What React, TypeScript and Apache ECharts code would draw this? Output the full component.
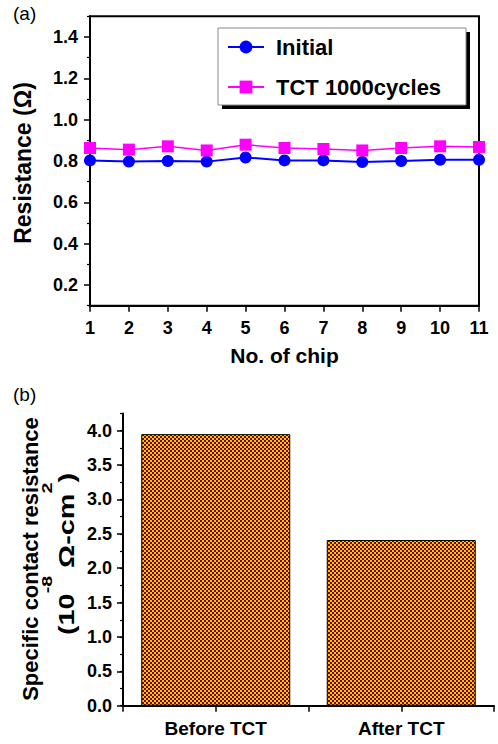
import React, { useEffect, useRef } from 'react';
import * as echarts from 'echarts';

// ---- Data ----
const chipNumbers = [1, 2, 3, 4, 5, 6, 7, 8, 9, 10, 11];
const initialValues = [0.803, 0.797, 0.8, 0.797, 0.817, 0.803, 0.803, 0.795, 0.8, 0.806, 0.806];
const tctValues = [0.863, 0.855, 0.871, 0.851, 0.879, 0.863, 0.858, 0.851, 0.863, 0.871, 0.868];
const seriesNames = ['Initial', 'TCT 1000cycles'];
const barCategories = ['Before TCT', 'After TCT'];
const barPositions = [1, 2];
const barValues = [3.95, 2.41];
// unit line of the (b) y title: [text, superscript?]
const unitTokens: [string, boolean][] = [['(10', false], ['-8', true], [' Ω-cm', false], ['2', true], [')', false]];

const FONT = '"Liberation Sans", Arial, sans-serif';

export default function App() {
  const ref = useRef<HTMLDivElement>(null);

  useEffect(() => {
    const el = ref.current!;
    const chart = echarts.init(el, null, { renderer: 'svg' });

    const tile = document.createElement('canvas');
    tile.width = 4;
    tile.height = 4;
    const ctx = tile.getContext('2d')!;
    ctx.fillStyle = '#f4c800';
    ctx.fillRect(0, 0, 4, 4);
    ctx.fillStyle = '#7c0400';
    ctx.fillRect(0, 0, 2, 2);
    ctx.fillRect(2, 2, 2, 2);

    // build the unit line with real superscripts
    const mctx = document.createElement('canvas').getContext('2d')!;
    const MAIN = 22;
    const SUP = 15;
    let cursor = 0;
    const unitChildren: any[] = [];
    unitTokens.forEach(([t, sup]) => {
      const fs = sup ? SUP : MAIN;
      mctx.font = `bold ${fs}px "Liberation Sans"`;
      const w = mctx.measureText(t).width;
      unitChildren.push({
        type: 'text', x: cursor, y: sup ? -19 : 0,
        style: { text: t, fill: '#000', fontFamily: FONT, fontWeight: 'bold', fontSize: fs, align: 'left', verticalAlign: 'middle' },
      });
      cursor += w;
    });
    const totalW = cursor;
    unitChildren.forEach((c) => { c.x -= totalW / 2; });
    const unitScale = 162 / totalW;

    const axisLine = { show: true, onZero: false, lineStyle: { color: '#000', width: 2 } };
    const majorTick = { show: true, length: 6, lineStyle: { color: '#000', width: 1.5 } };
    const minorTick = { show: true, length: 3, lineStyle: { color: '#000', width: 1.2 } };
    const tickLabel = { color: '#000', fontFamily: FONT, fontWeight: 'bold' as const, fontSize: 18 };

    const option: any = {
      animation: false,
      backgroundColor: '#fff',
      textStyle: { fontFamily: FONT },
      grid: [
        { left: 90, top: 16.3, width: 389, height: 289.4, show: true, borderColor: '#000', borderWidth: 2 },
        { left: 123, top: 413.5, width: 371, height: 292.2 },
      ],
      xAxis: [
        {
          gridIndex: 0, type: 'value', min: 1, max: 11, interval: 1,
          axisLine, axisTick: majorTick, splitLine: { show: false },
          axisLabel: { ...tickLabel, margin: 13 },
          name: 'No. of chip', nameLocation: 'middle', nameGap: 39,
          nameTextStyle: { color: '#000', fontFamily: FONT, fontWeight: 'bold', fontSize: 21 },
        },
        {
          gridIndex: 1, type: 'value', min: 0.5, max: 2.5, interval: 0.5,
          axisLine, axisTick: majorTick, splitLine: { show: false },
          axisLabel: {
            ...tickLabel, fontSize: 19, margin: 13,
            formatter: (v: number) => {
              const i = barPositions.indexOf(v);
              return i >= 0 ? barCategories[i] : '';
            },
          },
        },
      ],
      yAxis: [
        {
          gridIndex: 0, type: 'value', min: 0.1, max: 1.5, splitNumber: 7,
          axisLine, axisTick: majorTick, splitLine: { show: false },
          axisLabel: { ...tickLabel, margin: 12, showMinLabel: false, showMaxLabel: false, formatter: (v: number) => v.toFixed(1) },
        },
        {
          gridIndex: 0, type: 'value', position: 'left', offset: 0, min: 0.1, max: 1.5, interval: 0.2,
          axisLine: { show: false }, axisTick: minorTick, axisLabel: { show: false }, splitLine: { show: false },
        },
        {
          gridIndex: 1, type: 'value', min: 0, max: 4.25, interval: 0.5,
          axisLine, axisTick: majorTick, splitLine: { show: false },
          axisLabel: { ...tickLabel, margin: 11, showMaxLabel: false, formatter: (v: number) => v.toFixed(1) },
        },
        {
          gridIndex: 1, type: 'value', position: 'left', offset: 0, min: 0, max: 4.25, interval: 0.25,
          axisLine: { show: false }, axisTick: minorTick, axisLabel: { show: false }, splitLine: { show: false },
        },
      ],
      legend: {
        data: seriesNames,
        orient: 'vertical',
        left: 227,
        top: 36,
        itemWidth: 36,
        itemHeight: 16,
        itemGap: 18,
        padding: 0,
        z: 10,
        textStyle: { color: '#000', fontFamily: FONT, fontWeight: 'bold', fontSize: 22, lineHeight: 22, padding: [0, 0, 0, 7] },
      },
      graphic: [
        { type: 'text', left: 13, top: 4, style: { text: '(a)', fill: '#000', fontFamily: FONT, fontSize: 19 } },
        { type: 'text', left: 13, top: 385, style: { text: '(b)', fill: '#000', fontFamily: FONT, fontSize: 19 } },
        { type: 'rect', z: 3, shape: { x: 222, y: 32, width: 248, height: 77 }, style: { fill: '#000' } },
        { type: 'rect', z: 4, shape: { x: 218, y: 28, width: 248, height: 77 }, style: { fill: '#fff', stroke: '#888', lineWidth: 1 } },
        {
          type: 'text', x: 23, y: 163, rotation: Math.PI / 2,
          style: { text: 'Resistance (Ω)', fill: '#000', fontFamily: FONT, fontWeight: 'bold', fontSize: 23, align: 'center', verticalAlign: 'middle' },
        },
        {
          type: 'text', x: 30, y: 559, rotation: Math.PI / 2,
          style: { text: 'Specific contact resistance', fill: '#000', fontFamily: FONT, fontWeight: 'bold', fontSize: 22, align: 'center', verticalAlign: 'middle' },
        },
        {
          type: 'group', x: 66, y: 554, rotation: Math.PI / 2, scaleX: unitScale, scaleY: 1,
          children: unitChildren,
        },
      ],
      series: [
        {
          type: 'line', name: seriesNames[0], xAxisIndex: 0, yAxisIndex: 0,
          data: chipNumbers.map((x, i) => [x, initialValues[i]]),
          symbol: 'circle', symbolSize: 12,
          itemStyle: { color: '#0000ff' }, lineStyle: { color: '#0000ff', width: 2 }, z: 3,
        },
        {
          type: 'line', name: seriesNames[1], xAxisIndex: 0, yAxisIndex: 0,
          data: chipNumbers.map((x, i) => [x, tctValues[i]]),
          symbol: 'rect', symbolSize: 12,
          itemStyle: { color: '#ff00ff' }, lineStyle: { color: '#ff00ff', width: 1.5 }, z: 3,
        },
        {
          type: 'bar', xAxisIndex: 1, yAxisIndex: 2,
          data: barPositions.map((x, i) => [x, barValues[i]]),
          barWidth: 149,
          itemStyle: {
            color: { image: tile, repeat: 'repeat', imageWidth: 4, imageHeight: 4 },
            borderColor: '#000', borderWidth: 1,
          },
        },
      ],
    };

    chart.setOption(option);
    return () => chart.dispose();
  }, []);

  return <div ref={ref} style={{ position: 'absolute', left: 0, top: 0, width: 498, height: 744 }} />;
}
